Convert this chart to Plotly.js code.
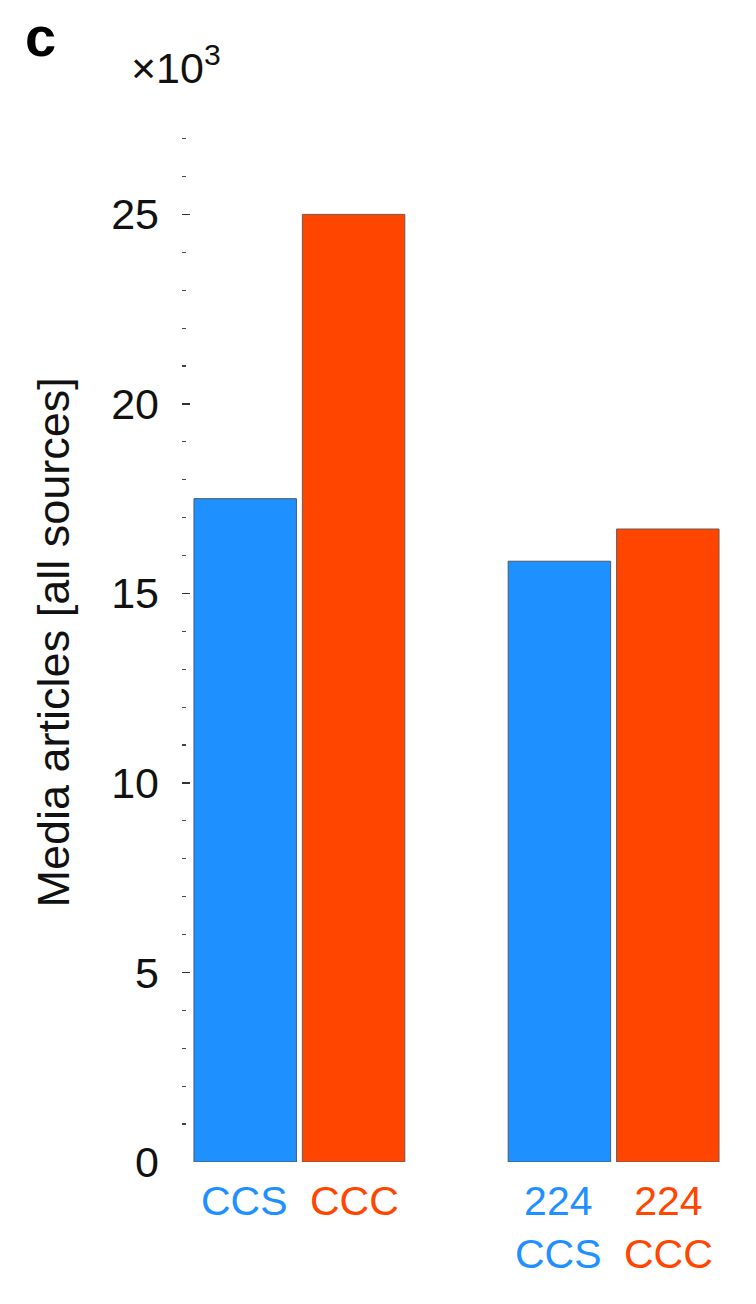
<!DOCTYPE html>
<html>
<head>
<meta charset="utf-8">
<script src="https://cdn.plot.ly/plotly-3.0.1.min.js"></script>
<style>
  html, body { margin: 0; padding: 0; background: #fff; }
  #chart { width: 756px; height: 1304px; }
</style>
</head>
<body>
<div id="chart"></div>
<script>
// ---- data (thousands of articles) ----
const groups = ["all", "224"];
const groupPrefix = ["", "224"];
const seriesNames = ["CCS", "CCC"];
const ccsValues = [17.5, 15.85];
const cccValues = [25.0, 16.7];
const yTickVals = [0, 5, 10, 15, 20, 25];
const yTickText = ["0", "5", "10", "15", "20", "25"];
const yTitle = "Media articles [all sources]";
const exponentLabel = "×10<sup>3</sup>";
const panelLabel = "c";

const blue = "#1E90FF";
const orange = "#FF4500";
const font = "Liberation Sans, Arial, Helvetica, sans-serif";

const traces = [
  { type: "bar", name: seriesNames[0], x: groups, y: ccsValues,
    marker: { color: blue, line: { color: "#4a5a6a", width: 1 } } },
  { type: "bar", name: seriesNames[1], x: groups, y: cccValues,
    marker: { color: orange, line: { color: "#6a5a55", width: 1 } } }
];

const annotations = [];
groups.forEach((g, i) => {
  [[seriesNames[0], blue, -55], [seriesNames[1], orange, 55]].forEach(([nm, col, sh]) => {
    const txt = groupPrefix[i] ? groupPrefix[i] + "<br>" + nm : nm;
    annotations.push({
      xref: "x", yref: "paper", x: i, y: 0, xshift: sh, yshift: -14,
      xanchor: "center", yanchor: "top", showarrow: false,
      text: txt, align: "center",
      font: { family: font, size: 41, color: col }
    });
  });
});
annotations.push({
  xref: "paper", yref: "paper", x: -0.2348, y: 0.504, textangle: -90,
  xanchor: "center", yanchor: "middle", showarrow: false,
  text: yTitle, font: { family: font, size: 45, color: "#111" }
});
annotations.push({
  xref: "paper", yref: "paper", x: 0.074, y: 1.092, xanchor: "right", yanchor: "top",
  showarrow: false, text: exponentLabel, font: { family: font, size: 43, color: "#111" }
});
annotations.push({
  xref: "paper", yref: "paper", x: -0.29, y: 1.124, xanchor: "left", yanchor: "top",
  showarrow: false, text: "<b>" + panelLabel + "</b>", font: { family: font, size: 56, color: "#000" }
});

const layout = {
  width: 756, height: 1304,
  margin: { l: 182, r: 24.5, t: 131, b: 142, autoexpand: false },
  paper_bgcolor: "#fff", plot_bgcolor: "#fff",
  showlegend: false,
  barmode: "group", bargap: 0.31, bargroupgap: 0.055,
  font: { family: font, color: "#111" },
  xaxis: {
    type: "category", range: [-0.3736, 1.3736],
    showticklabels: false, ticks: "", showline: false, showgrid: false, zeroline: false
  },
  yaxis: {
    range: [0, 27.2], tickvals: yTickVals, ticktext: yTickText,
    ticks: "inside", ticklen: 8, tickwidth: 1.5, tickcolor: "#333",
    ticklabelstandoff: 22,
    minor: { dtick: 1, ticks: "inside", ticklen: 4, tickwidth: 1.2, tickcolor: "#444", showgrid: false },
    showline: false, showgrid: false, zeroline: false,
    tickfont: { family: font, size: 43, color: "#111" }
  },
  annotations: annotations
};

Plotly.newPlot("chart", traces, layout, { displayModeBar: false, staticPlot: true });
</script>
</body>
</html>
